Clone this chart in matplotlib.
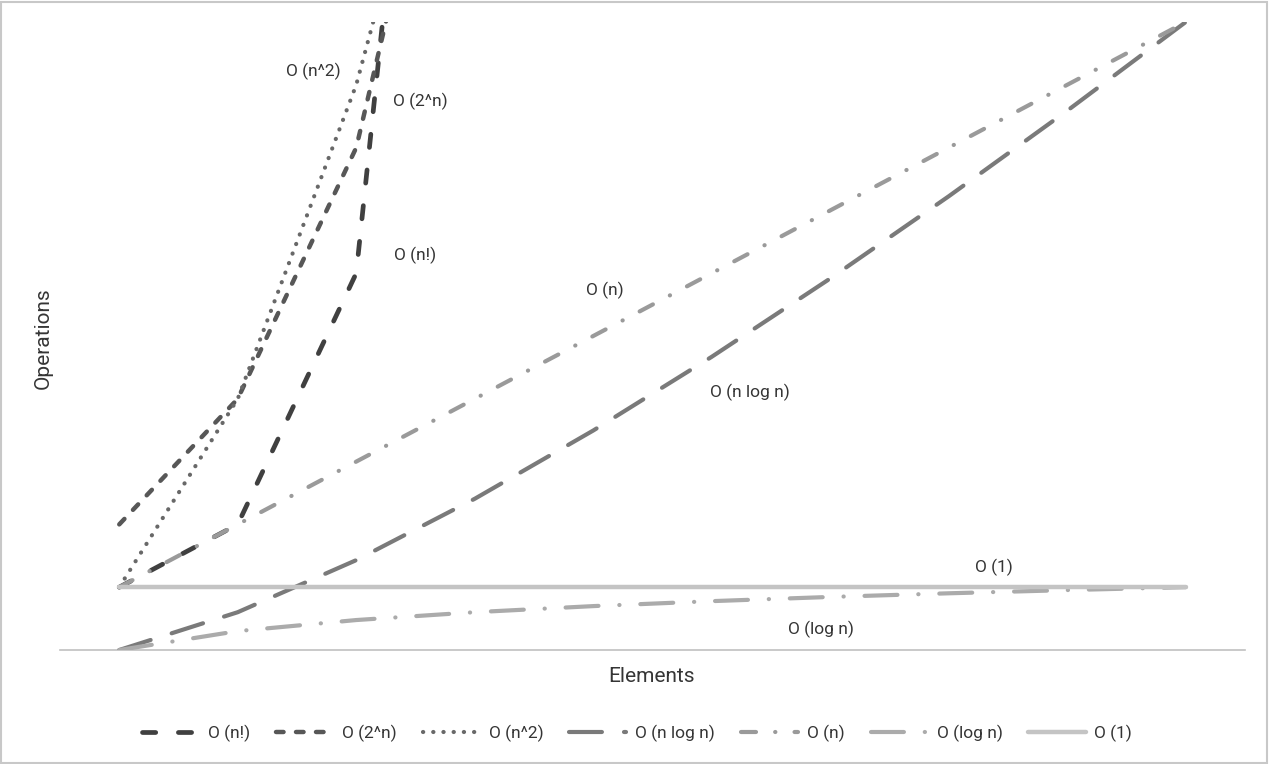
import matplotlib
matplotlib.use("Agg")
import matplotlib.pyplot as plt
from matplotlib.patches import Rectangle

# ---- data ----
elements = [1, 2, 3, 4, 5, 6, 7, 8, 9, 10]
series_names = ["O (n!)", "O (2^n)", "O (n^2)", "O (n log n)", "O (n)", "O (log n)", "O (1)"]
o_fact = [1, 2, 6, 24, 120, 720, 5040, 40320, 362880, 3628800]
o_exp = [2, 4, 8, 16, 32, 64, 128, 256, 512, 1024]
o_sq = [1, 4, 9, 16, 25, 36, 49, 64, 81, 100]
o_nlogn = [0, 0.602, 1.431, 2.408, 3.495, 4.669, 5.916, 7.225, 8.588, 10]
o_n = [1, 2, 3, 4, 5, 6, 7, 8, 9, 10]
o_logn = [0, 0.301, 0.477, 0.602, 0.699, 0.778, 0.845, 0.903, 0.954, 1]
o_one = [1, 1, 1, 1, 1, 1, 1, 1, 1, 1]
series_values = [o_fact, o_exp, o_sq, o_nlogn, o_n, o_logn, o_one]

# ---- styles ----
colors = ["#404040", "#575757", "#686868", "#7a7a7a", "#9a9a9a", "#ababab", "#c4c4c4"]
widths = [3.4, 3.2, 3.0, 3.0, 3.0, 3.0, 3.2]
dashes = [(2.8, 4.8), (1.7, 2.8), (0.05, 2.4), (7.9, 5.3), (3.6, 4.6, 0.05, 4.6),
          (7.9, 5.0, 0.05, 5.0), None]
label_pos = [(3.50, 6.29), (3.54, 8.73), (2.64, 9.22), (6.32, 4.11), (5.10, 5.72), (6.92, 0.33), (8.38, 1.31)]

plt.rcParams['font.family'] = ['Roboto', 'DejaVu Sans']
text_color = "#353535"

fig = plt.figure(figsize=(12.7, 7.64), dpi=100)
ax = fig.add_axes([60 / 1270, 1 - 650 / 764, 1185 / 1270, 628 / 764])

handles = []
for name, vals, col, lw, d, lp in zip(series_names, series_values, colors, widths, dashes, label_pos):
    line, = ax.plot(elements, vals, color=col, lw=lw, solid_capstyle='round',
                    dash_capstyle='round', label=name, zorder=3)
    if d is not None:
        line.set_dashes(d)
    handles.append(line)
    ax.text(lp[0], lp[1], name, ha='center', va='center', fontsize=12.5, color=text_color)

ax.set_xlim(0.5, 10.5)
ax.set_ylim(0, 10)
for s in ['top', 'right', 'left']:
    ax.spines[s].set_visible(False)
ax.spines['bottom'].set_color('#c0c0c0')
ax.spines['bottom'].set_linewidth(1.2)
ax.set_xticks([])
ax.set_yticks([])

fig.text(652 / 1270, 1 - 677 / 764, "Elements", ha='center', va='center', fontsize=15, color=text_color)
fig.text(43 / 1270, 1 - 338 / 764, "Operations", ha='center', va='center', rotation=90,
         fontsize=15, color=text_color)

fig.legend(handles=handles, labels=series_names, loc='center', ncol=7,
           bbox_to_anchor=(637 / 1270, 1 - 733 / 764), frameon=False, fontsize=12.5,
           handlelength=3.3, handletextpad=0.5, columnspacing=1.5,
           labelcolor=text_color)

fig.patches.append(Rectangle((0.001, 0.001), 0.997, 0.997, transform=fig.transFigure,
                             fill=False, edgecolor='#c8c8c8', lw=1.5))

fig.savefig("out.png", dpi=100, facecolor='white')
